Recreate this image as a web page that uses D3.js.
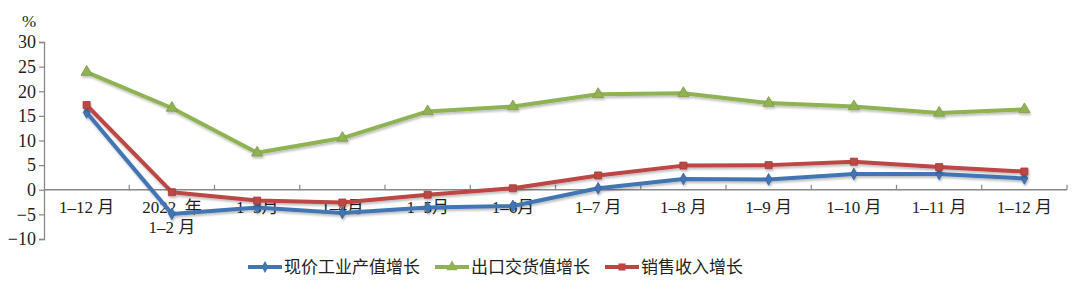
<!DOCTYPE html>
<html>
<head>
<meta charset="utf-8">
<script src="https://cdn.jsdelivr.net/npm/d3@7"></script>
<style>
  body { margin: 0; background: #fff; }
  svg text { font-family: "Liberation Serif", "Noto Sans CJK SC", serif; fill: #231f20; }
</style>
</head>
<body>
<div id="chart"></div>
<script>
// categories
var months = ["1–12 月", "2022  年|1–2 月", "1–3月", "1–4月", "1–5月", "1–6月", "1–7 月", "1–8 月", "1–9 月", "1–10 月", "1–11 月", "1–12 月"];
var yTicks = [-10, -5, 0, 5, 10, 15, 20, 25, 30];

// series values (%)
var outputGrowth = [15.7, -4.9, -3.6, -4.7, -3.6, -3.3, 0.3, 2.2, 2.1, 3.2, 3.2, 2.3];
var exportGrowth = [23.9, 16.6, 7.5, 10.5, 15.9, 16.9, 19.4, 19.6, 17.6, 16.9, 15.6, 16.3];
var salesGrowth  = [17.2, -0.5, -2.2, -2.6, -1.0, 0.3, 2.9, 4.9, 5.0, 5.7, 4.6, 3.7];

var seriesNames = ["现价工业产值增长", "出口交货值增长", "销售收入增长"];

var series = [
  {name: seriesNames[0], values: outputGrowth, color: "#4275b4", marker: "diamond"},
  {name: seriesNames[1], values: exportGrowth, color: "#8fb253", marker: "triangle"},
  {name: seriesNames[2], values: salesGrowth,  color: "#bd4644", marker: "square"}
];

var W = 1080, H = 292;
var plotLeft = 44, plotRight = 1067, plotTop = 42, plotBottom = 239;
var serif = "'Liberation Serif', 'Noto Sans CJK SC', serif";

var svg = d3.select("#chart").append("svg")
  .attr("width", W).attr("height", H);

var defs = svg.append("defs");
var f = defs.append("filter").attr("id", "shadow").attr("x", "-20%").attr("y", "-20%").attr("width", "140%").attr("height", "160%");
f.append("feDropShadow").attr("dx", 1).attr("dy", 2).attr("stdDeviation", 1.2).attr("flood-color", "#000").attr("flood-opacity", 0.25);

var x = d3.scaleBand().domain(d3.range(months.length)).range([plotLeft, plotRight]);
var y = d3.scaleLinear().domain([-10, 30]).range([plotBottom, plotTop]);

// y axis
var yAxis = svg.append("g")
  .attr("transform", "translate(" + plotLeft + ",0)")
  .call(d3.axisLeft(y).tickValues(yTicks).tickSize(5).tickPadding(3).tickFormat(function(d){ return d < 0 ? "\u2212" + Math.abs(d) : d; }));
yAxis.attr("font-family", null).attr("font-size", null);
yAxis.select(".domain").attr("stroke", "#888").attr("stroke-width", 1.3);
yAxis.selectAll(".tick line").attr("stroke", "#888").attr("stroke-width", 1.2);
yAxis.selectAll(".tick text").style("font-family", serif).style("font-size", "18px").attr("fill", "#231f20");

svg.append("text").attr("x", 22).attr("y", 27).style("font-family", serif).style("font-size", "17px").text("%");

// x axis at zero
var zeroY = y(0);
svg.append("line").attr("x1", plotLeft).attr("x2", plotRight).attr("y1", zeroY).attr("y2", zeroY)
  .attr("stroke", "#888").attr("stroke-width", 1.3);
var bounds = d3.range(1, months.length + 1).map(function(i){ return i < months.length ? x(i) : plotRight; });
svg.selectAll(".xtick").data(bounds).enter().append("line")
  .attr("x1", function(d){ return d; }).attr("x2", function(d){ return d; })
  .attr("y1", zeroY).attr("y2", zeroY - 5)
  .attr("stroke", "#888").attr("stroke-width", 1.2);

var xl = svg.selectAll(".xlab").data(months).enter().append("text")
  .attr("text-anchor", "middle")
  .style("font-family", serif)
  .style("font-size", "17px")
  .style("white-space", "pre")
  .attr("x", function(d, i){ return x(i) + x.bandwidth() / 2; })
  .attr("y", 213);
xl.each(function(d){
  var parts = d.split("|");
  var t = d3.select(this);
  parts.forEach(function(p, k){
    t.append("tspan").attr("x", t.attr("x")).attr("dy", k === 0 ? 0 : 20).text(p);
  });
});

// lines
var line = d3.line()
  .x(function(d, i){ return x(i) + x.bandwidth() / 2; })
  .y(function(d){ return y(d); });

function markerPath(type) {
  if (type === "diamond") return d3.symbol().type(d3.symbolDiamond).size(40)();
  if (type === "triangle") return d3.symbol().type(d3.symbolTriangle).size(55)();
  return d3.symbol().type(d3.symbolSquare).size(50)();
}

series.forEach(function(s){
  var g = svg.append("g").attr("filter", "url(#shadow)");
  g.append("path").datum(s.values)
    .attr("d", line)
    .attr("fill", "none")
    .attr("stroke", s.color)
    .attr("stroke-width", 4)
    .attr("stroke-linejoin", "round");
  g.selectAll(".m").data(s.values).enter().append("path")
    .attr("transform", function(d, i){ return "translate(" + (x(i) + x.bandwidth() / 2) + "," + y(d) + ")"; })
    .attr("d", markerPath(s.marker))
    .attr("fill", s.color)
    .attr("stroke", d3.color(s.color).darker(0.4))
    .attr("stroke-width", 0.8);
});

// legend
var legendX = [248, 435, 605];
var legend = svg.selectAll(".leg").data(series).enter().append("g")
  .attr("transform", function(d, i){ return "translate(" + legendX[i] + ",267)"; });
legend.append("line").attr("x1", 0).attr("x2", 34).attr("y1", 0).attr("y2", 0)
  .attr("stroke", function(d){ return d.color; }).attr("stroke-width", 4);
legend.append("path")
  .attr("transform", "translate(17,0)")
  .attr("d", function(d){ return markerPath(d.marker); })
  .attr("fill", function(d){ return d.color; });
legend.append("text").attr("x", 36).attr("y", 6)
  .style("font-family", "'Noto Sans CJK SC', sans-serif")
  .style("font-size", "17px")
  .text(function(d){ return d.name; });
</script>
</body>
</html>
